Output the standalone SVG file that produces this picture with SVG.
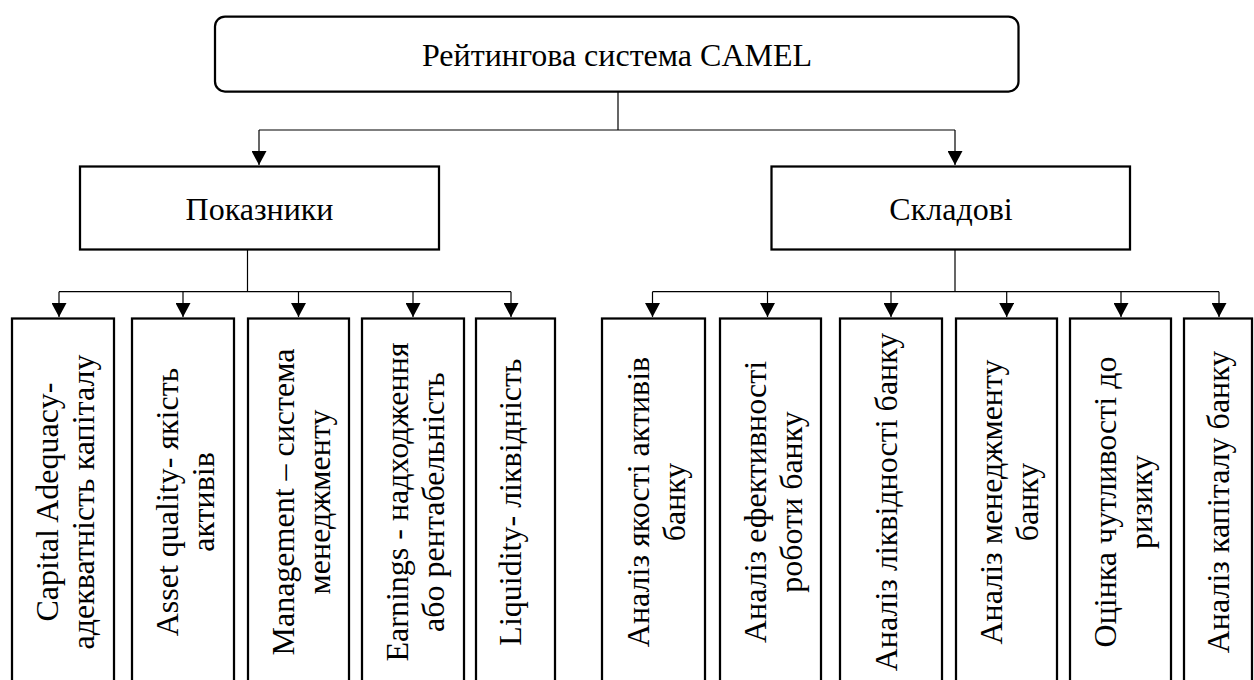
<svg xmlns="http://www.w3.org/2000/svg" width="1254" height="680" viewBox="0 0 1254 680">
<style>
.box{fill:#fff;stroke:#000;stroke-width:2.25}
.con{fill:none;stroke:#000;stroke-width:1.2}
text{font-family:"Liberation Serif","Times New Roman",serif;font-size:32px;fill:#000;text-anchor:middle}
</style>
<defs>
<marker id="arr" viewBox="0 0 14 15" refX="14" refY="7.5" markerWidth="14" markerHeight="15" markerUnits="userSpaceOnUse" orient="auto">
<path d="M0,0 L14,7.5 L0,15 z" fill="#000"/>
</marker>
</defs>
<rect width="1254" height="680" fill="#fff"/>
<g id="connectors">
<path class="con" d="M618,92 V130 M259,130 H955"/>
<path class="con" d="M259,130 V165" marker-end="url(#arr)"/>
<path class="con" d="M955,130 V165" marker-end="url(#arr)"/>
<path class="con" d="M247.5,250 V291.7 M59,291.7 H511"/>
<path class="con" d="M59,291.7 V317" marker-end="url(#arr)"/>
<path class="con" d="M183,291.7 V317" marker-end="url(#arr)"/>
<path class="con" d="M298.5,291.7 V317" marker-end="url(#arr)"/>
<path class="con" d="M413,291.7 V317" marker-end="url(#arr)"/>
<path class="con" d="M511,291.7 V317" marker-end="url(#arr)"/>
<path class="con" d="M955,250 V291.7 M652.5,291.7 H1219"/>
<path class="con" d="M652.5,291.7 V317" marker-end="url(#arr)"/>
<path class="con" d="M767.5,291.7 V317" marker-end="url(#arr)"/>
<path class="con" d="M891,291.7 V317" marker-end="url(#arr)"/>
<path class="con" d="M1006.7,291.7 V317" marker-end="url(#arr)"/>
<path class="con" d="M1121,291.7 V317" marker-end="url(#arr)"/>
<path class="con" d="M1219,291.7 V317" marker-end="url(#arr)"/>
</g>
<g id="root">
<rect class="box" x="215" y="16.5" width="803.5" height="75" rx="10"/>
<text x="617" y="65.7">Рейтингова система CAMEL</text>
</g>
<g id="pokaznyky">
<rect class="box" x="80" y="166.5" width="359" height="83"/>
<text x="259.5" y="220">Показники</text>
</g>
<g id="skladovi">
<rect class="box" x="771.5" y="166.5" width="358.5" height="83"/>
<text x="951" y="220">Складові</text>
</g>
<g id="capital">
<rect class="box" x="12" y="318.5" width="102" height="380"/>
<g transform="translate(63,502) rotate(-90)"><text y="-5">Capital Adequacy-</text><text y="31">адекватність капіталу</text></g>
</g>
<g id="asset">
<rect class="box" x="132" y="318.5" width="102" height="380"/>
<g transform="translate(183,502) rotate(-90)"><text y="-5">Asset quality- якість</text><text y="31">активів</text></g>
</g>
<g id="management">
<rect class="box" x="248" y="318.5" width="101" height="380"/>
<g transform="translate(298.5,502) rotate(-90)"><text y="-5">Management – система</text><text y="31">менеджменту</text></g>
</g>
<g id="earnings">
<rect class="box" x="362" y="318.5" width="102" height="380"/>
<g transform="translate(413,502) rotate(-90)"><text y="-5">Earnings - надходження</text><text y="31">або рентабельність</text></g>
</g>
<g id="liquidity">
<rect class="box" x="476" y="318.5" width="79" height="380"/>
<g transform="translate(515.5,502) rotate(-90)"><text y="5">Liquidity- ліквідність</text></g>
</g>
<g id="a-assets">
<rect class="box" x="602" y="318.5" width="103" height="380"/>
<g transform="translate(653.5,502) rotate(-90)"><text y="-5">Аналіз якості активів</text><text y="31">банку</text></g>
</g>
<g id="a-efficiency">
<rect class="box" x="720" y="318.5" width="101" height="380"/>
<g transform="translate(770.5,502) rotate(-90)"><text y="-5">Аналіз ефективності</text><text y="31">роботи банку</text></g>
</g>
<g id="a-liquidity">
<rect class="box" x="840" y="318.5" width="102" height="380"/>
<g transform="translate(891,502) rotate(-90)"><text y="6">Аналіз ліквідності банку</text></g>
</g>
<g id="a-management">
<rect class="box" x="956" y="318.5" width="101" height="380"/>
<g transform="translate(1006.5,502) rotate(-90)"><text y="-5">Аналіз менеджменту</text><text y="31">банку</text></g>
</g>
<g id="a-risk">
<rect class="box" x="1070" y="318.5" width="101" height="380"/>
<g transform="translate(1120.5,502) rotate(-90)"><text y="-5">Оцінка чутливості до</text><text y="31">ризику</text></g>
</g>
<g id="a-capital">
<rect class="box" x="1184" y="318.5" width="68" height="380"/>
<g transform="translate(1218.5,502) rotate(-90)"><text y="10">Аналіз капіталу банку</text></g>
</g>
</svg>
